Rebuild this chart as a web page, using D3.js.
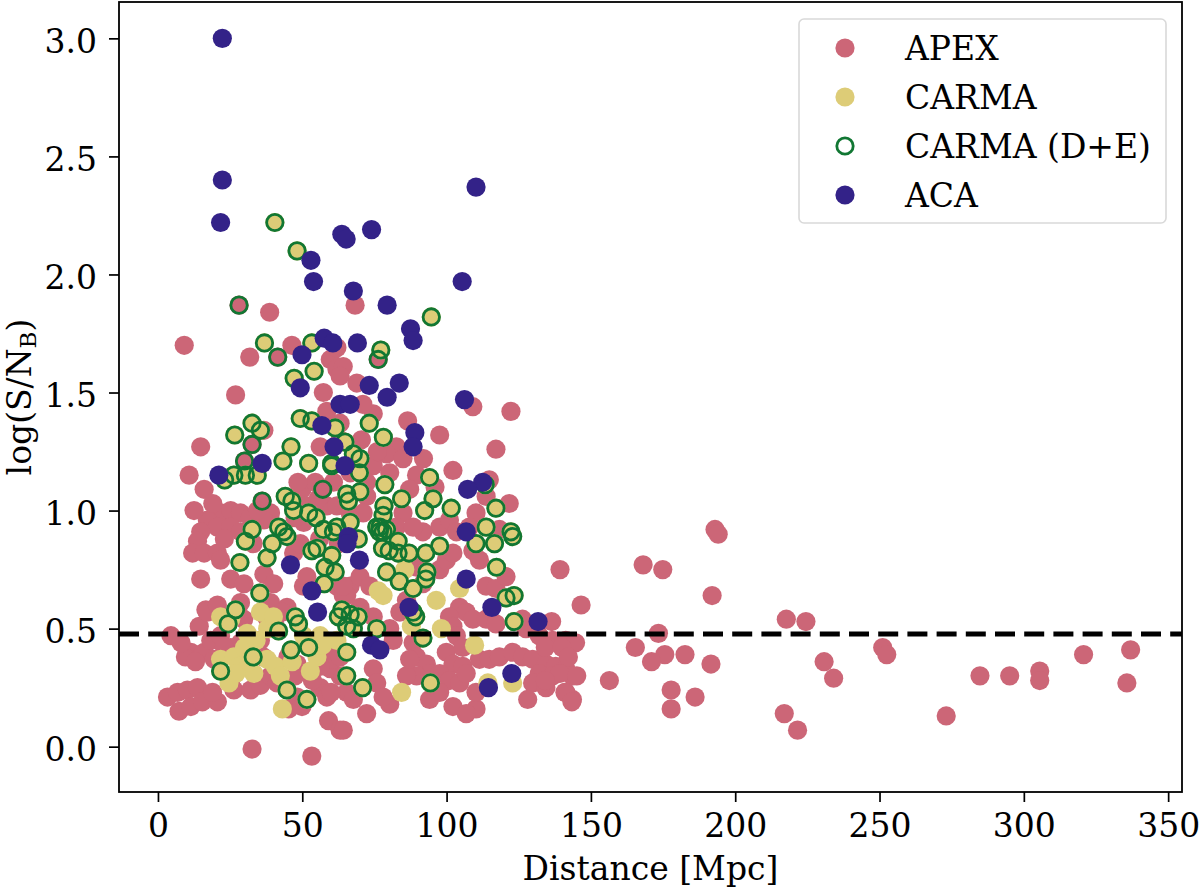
<!DOCTYPE html>
<html>
<head>
<meta charset="utf-8">
<script src="https://d3js.org/d3.v7.min.js"></script>
<style>
  body { margin: 0; background: #fff; }
  text { font-family: "DejaVu Serif", serif; }
</style>
</head>
<body>
<svg id="chart" width="1200" height="888"></svg>
<script>
// distance [Mpc], log(S/N_B)
var apex = [
  [38.7,1.84],[9.1,1.70],[31.8,1.65],[46.4,1.70],[26.9,1.49],[59.7,1.64],[62.0,1.60],[57.3,1.50],[14.8,1.27],[36.7,1.34],
  [10.8,1.15],[16.0,1.09],[56.2,1.27],[21.7,0.99],[25.2,1.00],[28.6,0.99],[17.1,0.96],[20.6,0.93],[14.8,0.91],[25.2,0.93],
  [28.6,0.91],[39.0,0.99],[36.7,0.96],[49.9,1.09],[54.5,1.12],[51.6,1.02],[60.8,1.12],[58.5,1.02],
  [28.1,1.87],[41.5,1.65],[32.6,1.28],[30.0,1.21],[36.1,1.04],[57.1,1.09],[76.3,1.64],
  [13.7,0.87],[12.0,0.82],[16.0,0.82],[20.6,0.82],[21.7,0.79],[14.8,0.71],[25.2,0.71],[29.8,0.69],[16.6,0.58],[14.3,0.51],
  [4.5,0.47],[11.4,0.40],[16.0,0.40],[18.3,0.45],[21.7,0.47],[3.3,0.21],[6.8,0.23],[10.2,0.24],[13.7,0.25],[7.3,0.15],
  [11.4,0.17],[15.4,0.19],[20.6,0.19],[18.9,0.23],[26.3,0.24],[25.2,0.28],[32.1,0.24],[35.5,0.26],[39.0,0.30],[41.3,0.27],
  [45.3,0.16],[48.2,0.21],[49.9,0.17],[56.2,0.25],[58.5,0.21],[59.1,0.11],[63.1,0.07],[63.1,0.30],[59.7,0.33],[58.5,0.41],
  [60.8,0.37],[32.6,-0.01],[53.3,-0.04],[39.0,0.61],[44.7,0.59],[28.6,0.61],[50.4,0.68],[51.6,0.72],[62.0,0.68],[64.2,0.64],
  [47.0,0.82],[49.3,0.86],[36.7,0.73],[40.1,0.69],[25.2,0.42],[28.6,0.44],[17.1,0.57],[20.6,0.60],[36.5,0.38],[48.2,0.35],
  [56.2,0.34],[29.7,0.54],[35.5,0.45],
  [66.6,0.68],[70.0,0.72],[73.4,0.68],[65.4,0.64],[70.0,0.59],[74.6,0.55],[80.3,0.50],[81.5,0.45],[83.8,0.57],[86.1,0.62],
  [91.8,0.69],[89.6,0.76],[97.6,0.75],[99.9,0.79],[102.2,0.82],[97.6,0.93],[109.1,0.83],[111.4,0.79],[113.7,0.68],[117.1,0.67],
  [120.6,0.72],[104.5,0.59],[106.8,0.57],[109.1,0.54],[101.0,0.55],[102.2,0.51],[113.7,0.54],[117.1,0.52],[126.3,0.54],[127.5,0.50],
  [132.1,0.47],[136.7,0.45],[141.3,0.45],[144.7,0.44],[88.4,0.44],[89.6,0.38],[93.0,0.35],[94.1,0.31],[89.6,0.30],[99.9,0.40],
  [102.2,0.35],[105.6,0.34],[97.6,0.31],[101.0,0.28],[104.5,0.27],[106.8,0.31],[111.4,0.37],[114.8,0.37],[118.3,0.38],[122.9,0.40],
  [126.3,0.38],[129.8,0.37],[134.4,0.35],[137.8,0.34],[132.1,0.31],[136.7,0.30],[141.3,0.33],[143.6,0.30],[129.8,0.27],[134.4,0.25],
  [141.3,0.23],[128.1,0.20],[143.6,0.20],[102.2,0.17],[110.2,0.16],[106.8,0.14],[80.3,0.18],[72.3,0.14],[64.2,0.07],[64.2,0.68],
  [63.1,0.38],[64.2,0.30],[65.4,0.23],[67.7,0.20],[74.6,0.33],[75.8,0.27],[78.0,0.21],[86.1,0.30],[87.2,0.37],[94.1,0.20],
  [97.6,0.23],[110.2,0.23],[103.4,0.47],[105.6,0.42],
  [68.3,1.87],[62.0,1.69],[64.2,1.61],[63.1,1.57],[68.9,1.54],[74.6,1.41],[109.1,1.44],[122.3,1.42],[97.6,1.32],[117.1,1.26],
  [102.2,1.17],[82.6,1.27],[79.2,1.24],[84.9,1.22],[74.6,1.19],[80.3,1.16],[89.6,1.15],[87.2,1.09],[84.9,0.99],[82.6,0.93],
  [91.8,0.91],[88.4,0.93],[101.0,0.96],[103.4,0.91],[110.2,0.99],[107.9,0.93],[121.7,1.03],[114.8,1.13],[113.7,1.06],[118.3,0.92],
  [63.1,1.37],[63.1,1.30],[66.6,1.16],[72.3,1.12],[72.3,1.06],[66.6,0.99],[71.1,0.99],
  [12.5,1.00],[58.5,1.42],[48.5,1.12],[55.5,1.05],[62.0,1.02],[50.5,0.95],[56.0,0.88],[62.5,0.86],[47.5,0.97],[32.0,0.97],
  [34.5,1.00],[19.0,1.03],[23.0,0.88],[33.0,0.86],[9.5,0.38],[13.0,0.36],[19.5,0.37],[23.0,0.42],[8.0,0.44],[37.5,0.55],
  [40.5,0.52],[43.0,0.57],[47.5,0.30],[53.5,0.28],[60.0,0.23],[45.0,0.38],
  [70.5,1.30],[76.0,1.25],[92.0,1.22],[96.0,1.10],[86.5,1.38],[71.0,1.45],
  [139.3,0.75],[146.6,0.60],[136.4,0.53],[168.1,0.77],[174.9,0.75],[193.0,0.92],[194.1,0.90],[192.0,0.64],[217.7,0.54],[224.5,0.53],
  [173.4,0.48],[165.4,0.42],[175.6,0.39],[171.0,0.36],[182.6,0.39],[191.6,0.35],[156.4,0.28],[177.8,0.24],[177.8,0.16],[186.1,0.21],
  [251.1,0.42],[252.5,0.39],[230.8,0.36],[234.1,0.29],[217.0,0.14],[221.6,0.07],[273.1,0.13],[284.8,0.30],[295.1,0.30],[305.5,0.32],
  [305.5,0.28],[320.7,0.39],[337.0,0.41],[335.7,0.27],[134.2,0.42],[140.0,0.42],[142.2,0.38],[139.3,0.31],[145.1,0.30],[134.2,0.28],
  [141.0,0.23],[143.4,0.19]
];

// CARMA sources without D+E data
var carma = [
  [21.7,0.55],[25.2,0.54],[30.9,0.48],[35.5,0.57],[21.7,0.37],[26.3,0.38],[28.0,0.34],[24.6,0.27],[33.2,0.31],[37.8,0.37],
  [40.7,0.34],[42.4,0.30],[43.1,0.16],[55.1,0.38],[52.8,0.32],[50.4,0.47],[56.2,0.47],[62.0,0.45],[76.3,0.66],[78.0,0.64],
  [96.4,0.62],[104.5,0.67],[85.5,0.75],[98.2,0.50],[87.8,0.51],[109.7,0.43],[84.4,0.23],[122.9,0.27],[114.3,0.27],
  [30.0,0.42],[34.0,0.45],[38.0,0.50],[27.0,0.31],[46.5,0.36],[57.0,0.43],[40.0,0.55],[31.5,0.36]
];

// CARMA sources that also have D+E data
var carmaDE = [
  [40.5,2.22],[48.2,2.10],[36.9,1.71],[53.3,1.71],[54.1,1.59],[47.2,1.56],[49.3,1.39],[53.3,1.38],[32.6,1.37],[35.5,1.34],
  [26.6,1.32],[46.1,1.27],[43.3,1.21],[52.2,1.20],[60.2,1.20],[26.3,1.15],[30.3,1.15],[34.4,1.15],[23.1,1.13],[44.1,1.06],
  [46.4,1.04],[47.0,1.00],[52.2,0.99],[54.8,0.97],[57.3,0.92],[60.8,0.91],[32.6,0.92],[41.8,0.93],[43.6,0.91],[44.7,0.89],
  [30.3,0.87],[39.6,0.86],[37.8,0.80],[28.4,0.78],[53.3,0.83],[55.1,0.84],[60.2,0.81],[57.9,0.76],[61.4,0.74],[57.6,0.69],
  [35.3,0.65],[26.9,0.58],[24.3,0.52],[41.8,0.49],[47.6,0.55],[48.7,0.52],[63.7,0.58],[62.5,0.55],[65.4,0.51],[33.0,0.38],
  [46.1,0.41],[52.2,0.42],[21.7,0.32],[44.7,0.24],[51.6,0.20],[65.4,0.40],[65.4,0.30],
  [113.7,0.93],[122.9,0.89],[116.6,0.86],[110.2,0.86],[117.3,0.76],[97.6,0.85],[92.8,0.82],[87.0,0.82],[93.2,0.74],[92.8,0.71],
  [79.2,0.92],[76.9,0.93],[76.7,0.91],[69.4,0.88],[83.2,0.87],[77.8,0.84],[80.1,0.83],[83.2,0.82],[79.2,0.74],[83.6,0.70],
  [88.4,0.67],[120.6,0.63],[123.4,0.64],[123.4,0.53],[89.3,0.55],[88.4,0.57],[75.8,0.50],[66.6,0.56],[69.4,0.55],[67.7,0.50],
  [91.8,0.46],[70.9,0.25],[94.4,0.27],
  [94.7,1.82],[77.2,1.68],[73.2,1.37],[78.1,1.31],[61.4,1.35],[64.8,1.29],[67.7,1.24],[70.0,1.22],[60.2,1.19],[69.8,1.16],
  [78.6,1.11],[70.0,1.08],[65.4,1.07],[66.0,1.04],[84.4,1.05],[94.1,1.14],[78.3,1.02],[78.0,0.98],[95.3,1.05],[92.4,1.00],
  [101.6,1.01],[117.1,1.01],[113.4,1.11],[66.6,0.95],[62.0,0.93],[75.8,0.93],[78.0,0.91],[122.3,0.91]
];

// D+E detections drawn over APEX sources
var deOverApex = [[28.1,1.87],[41.5,1.65],[32.6,1.28],[30.0,1.21],[36.1,1.04],[57.1,1.09],[76.3,1.64]];

var aca = [
  [22.3,3.00],[22.3,2.40],[21.7,2.22],[63.7,2.17],[65.2,2.15],[74.0,2.19],[53.0,2.06],[53.9,1.97],[67.7,1.93],[105.4,1.97],
  [110.2,2.37],[79.4,1.87],[87.5,1.77],[88.4,1.72],[69.1,1.71],[57.6,1.73],[60.6,1.71],[49.9,1.66],[73.2,1.53],[83.6,1.54],
  [79.4,1.48],[63.1,1.45],[66.6,1.45],[106.2,1.47],[89.0,1.33],[88.4,1.27],[61.0,1.27],[64.8,1.19],[112.5,1.12],[107.3,1.09],
  [106.8,0.91],[66.0,0.89],[49.3,1.52],[56.8,1.36],[36.1,1.20],[21.1,1.15],[45.9,0.77],[53.3,0.66],[55.3,0.57],[65.5,0.86],
  [69.8,0.79],[106.8,0.71],[87.0,0.59],[115.7,0.59],[131.7,0.53],[74.0,0.43],[76.9,0.41],[122.6,0.31],[114.5,0.25]
];

var threshold = Math.log10(3);
var xTicks = [0, 50, 100, 150, 200, 250, 300, 350];
var yTicks = [0.0, 0.5, 1.0, 1.5, 2.0, 2.5, 3.0];
var legendLabels = ["APEX", "CARMA", "CARMA (D+E)", "ACA"];

var colors = { apex: "#CC6677", carma: "#DDCC77", de: "#117733", aca: "#332288" };

var svg = d3.select("#chart");
var plotLeft = 119, plotRight = 1182, plotTop = 2, plotBottom = 792;
var r = 9.6;

var x = d3.scaleLinear().domain([-13.5, 354.8]).range([plotLeft, plotRight]);
var y = d3.scaleLinear().domain([-0.192, 3.154]).range([plotBottom, plotTop]);

var plot = svg.append("g");

function dots(data, fill) {
  plot.append("g").selectAll("circle").data(data).enter().append("circle")
    .attr("cx", function(d) { return x(d[0]); })
    .attr("cy", function(d) { return y(d[1]); })
    .attr("r", r)
    .attr("fill", fill);
}

dots(apex, colors.apex);
dots(carma.concat(carmaDE), colors.carma);

plot.append("g").selectAll("circle").data(carmaDE.concat(deOverApex)).enter().append("circle")
  .attr("cx", function(d) { return x(d[0]); })
  .attr("cy", function(d) { return y(d[1]); })
  .attr("r", r - 1.4)
  .attr("fill", "none")
  .attr("stroke", colors.de)
  .attr("stroke-width", 2.8);

dots(aca, colors.aca);

// log(3) threshold
svg.append("line")
  .attr("x1", plotLeft).attr("x2", plotRight)
  .attr("y1", y(threshold)).attr("y2", y(threshold))
  .attr("stroke", "#000").attr("stroke-width", 5.2)
  .attr("stroke-dasharray", "20,9.2");

// axes
var xAxis = svg.append("g").attr("transform", "translate(0," + plotBottom + ")")
  .call(d3.axisBottom(x).tickValues(xTicks).tickFormat(d3.format("d")).tickSize(10).tickSizeOuter(0).tickPadding(12));
var yAxis = svg.append("g").attr("transform", "translate(" + plotLeft + ",0)")
  .call(d3.axisLeft(y).tickValues(yTicks).tickFormat(d3.format(".1f")).tickSize(10).tickSizeOuter(0).tickPadding(12));

[xAxis, yAxis].forEach(function(a) {
  a.selectAll("text").attr("font-family", "DejaVu Serif").attr("font-size", 33).attr("fill", "#000");
  a.selectAll("line").attr("stroke", "#000").attr("stroke-width", 1.7);
  a.select(".domain").remove();
});
yAxis.selectAll("text").attr("dy", "0.42em");

svg.append("rect")
  .attr("x", plotLeft).attr("y", plotTop)
  .attr("width", plotRight - plotLeft).attr("height", plotBottom - plotTop)
  .attr("fill", "none").attr("stroke", "#000").attr("stroke-width", 1.8);

svg.append("text")
  .attr("x", (plotLeft + plotRight) / 2).attr("y", 880)
  .attr("text-anchor", "middle").attr("font-size", 33)
  .text("Distance [Mpc]");

var ylab = svg.append("text")
  .attr("transform", "translate(31," + (plotTop + plotBottom) / 2 + ") rotate(-90)")
  .attr("text-anchor", "middle").attr("font-size", 33);
ylab.append("tspan").text("log(S/N");
ylab.append("tspan").attr("font-size", 23).attr("dy", 5).text("B");
ylab.append("tspan").attr("dy", -5).text(")");

// legend
var lg = svg.append("g");
lg.append("rect")
  .attr("x", 799).attr("y", 19).attr("width", 367).attr("height", 204)
  .attr("rx", 5).attr("fill", "#fff").attr("fill-opacity", 0.8)
  .attr("stroke", "#d9d9d9").attr("stroke-width", 1.6);

var rows = lg.selectAll("g.row").data(legendLabels).enter().append("g")
  .attr("transform", function(d, i) { return "translate(0," + (48 + i * 49) + ")"; });

rows.append("circle")
  .attr("cx", 845).attr("cy", 0)
  .attr("r", function(d, i) { return i === 2 ? r - 1.4 : r; })
  .attr("fill", function(d, i) { return [colors.apex, colors.carma, "none", colors.aca][i]; })
  .attr("stroke", function(d, i) { return i === 2 ? colors.de : "none"; })
  .attr("stroke-width", 2.8);

rows.append("text")
  .attr("x", 905).attr("y", 12)
  .attr("font-size", 33)
  .text(function(d) { return d; });
</script>
</body>
</html>
